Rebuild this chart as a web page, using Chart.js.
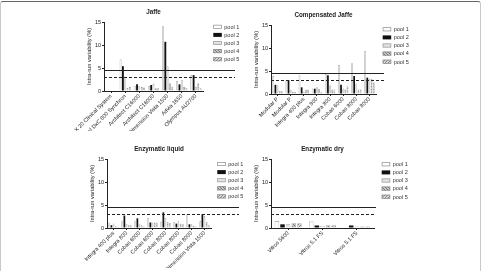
<!DOCTYPE html>
<html>
<head>
<meta charset="utf-8">
<script src="https://cdn.jsdelivr.net/npm/chart.js@4.4.1/dist/chart.umd.min.js"></script>
<style>
  html, body { margin: 0; padding: 0; background: #fff; }
  #wrap { position: relative; width: 482px; height: 271px; overflow: hidden; }
  #wrap canvas { position: absolute; left: 0; top: 0; }
  #frame { position: absolute; left: 0; top: 1px; width: 479px; height: 280px;
           border: 1px solid #c8c8c8; border-top: 1px solid #666; border-radius: 3px; }
</style>
</head>
<body>
<div id="wrap">
  <div id="frame"></div>
  <canvas id="jaffe" width="482" height="271"></canvas>
  <canvas id="compJaffe" width="482" height="271"></canvas>
  <canvas id="enzLiquid" width="482" height="271"></canvas>
  <canvas id="enzDry" width="482" height="271"></canvas>
</div>
<script>
    var poolNames = ['pool 1', 'pool 2', 'pool 3', 'pool 4', 'pool 5'];
    var yTicks = [0, 5, 10, 15];
    // solid and dashed limit lines (%)
    var limitValues = [4.5, 3.0];

    var jaffeLabels = ['LX 20 Clinical System', 'Unicel DxC 800 Synchron', 'Architect C16000',
        'Architect C16000', 'Dimension Vista 1500', 'Advia 1650', 'Olympus AU2700'];
    var jaffePool1 = [null, 6.9, 1.1, 1.1, 14.1, 2.2, 3.4];
    var jaffePool2 = [null, 5.4, 1.45, 1.3, 10.7, 1.45, 3.45];
    var jaffePool3 = [null, 3.1, 1.1, 1.5, 5.4, 2.4, 0.9];
    var jaffePool4 = [null, 0.7, 0.85, 0.6, 1.7, 0.9, 1.7];
    var jaffePool5 = [null, 0.85, 0.75, 0.6, 0.9, 0.7, 0.6];

    var compLabels = ['Modular P', 'Modular P', 'Integra 400 plus', 'Integra 800',
        'Integra 800', 'Cobas 6000', 'Cobas 8000', 'Cobas 8000'];
    var compPool1 = [3.9, 3.0, 4.1, 1.2, 4.35, 6.3, 6.7, 9.4];
    var compPool2 = [2.0, 3.0, 1.45, 1.15, 4.05, 2.0, 3.9, 3.55];
    var compPool3 = [1.9, 0.9, 0.5, 1.45, 1.9, 1.2, 2.3, 3.3];
    var compPool4 = [0.65, 0.5, 0.9, 1.15, 1.0, 1.0, 1.0, 3.3];
    var compPool5 = [0.6, 0.5, 1.0, 0.4, 1.0, 1.7, 1.0, 2.5];

    var liquidLabels = ['Integra 400 plus', 'Integra 800', 'Cobas 6000', 'Cobas 6000',
        'Cobas 8000', 'Cobas 8000', 'Cobas 8000', 'Dimension Vista 1500'];
    var liquidPool1 = [1.2, 1.6, 1.6, 2.2, 1.4, 1.3, 3.0, 1.45];
    var liquidPool2 = [0.6, 2.7, 2.1, 1.2, 3.4, 0.95, 0.8, 3.0];
    var liquidPool3 = [1.0, 0.9, 0.95, 1.2, 2.2, 1.45, 0.8, 2.6];
    var liquidPool4 = [0.4, 0.65, 0.6, 1.2, 1.3, 0.95, 0.5, 1.3];
    var liquidPool5 = [0.2, 0.6, 0.3, 1.2, 1.1, 0.95, 0.3, 0.6];

    var dryLabels = ['Vitros 5600', 'Vitros 5.1 FS', 'Vitros 5.1 FS'];
    var dryPool1 = [1.5, 1.4, null];
    var dryPool2 = [0.8, 0.55, 0.55];
    var dryPool3 = [0.8, 0.5, 0.35];
    var dryPool4 = [1.05, 0.6, 0.35];
    var dryPool5 = [1.05, 0.6, 0.35];

    Chart.defaults.font.family = "'Liberation Sans', Arial, sans-serif";
    Chart.defaults.color = '#222';

    function makePattern(bg, fg, type) {
        var c = document.createElement('canvas');
        c.width = 3;
        c.height = 3;
        var x = c.getContext('2d');
        x.fillStyle = bg;
        x.fillRect(0, 0, 3, 3);
        x.fillStyle = fg;
        if (type == 'hatch') {
            x.fillRect(0, 0, 1, 1);
            x.fillRect(1, 1, 1, 1);
            x.fillRect(2, 2, 1, 1);
        } else {
            x.fillRect(0, 0, 1, 1);
            x.fillRect(2, 1, 1, 1);
            x.fillRect(1, 2, 1, 1);
        }
        return x.createPattern(c, 'repeat');
    }

    var poolFill = ['#ffffff', '#111111', '#e2e2e2',
        makePattern('#c4c4c4', '#7a7a7a', 'hatch'), makePattern('#d6d6d6', '#8c8c8c', 'check')];
    var poolBorder = ['#8a8a8a', '#111111', '#9a9a9a', '#8a8a8a', '#8a8a8a'];

    // limit lines, drawn over the bars and a bit past the axis end
    var refLines = {
        id: 'refLines',
        afterDatasetsDraw: function (chart, args, opts) {
            var ctx = chart.ctx;
            var area = chart.chartArea;
            var y = chart.scales.y;
            ctx.save();
            ctx.strokeStyle = '#222';
            ctx.lineWidth = 1;
            limitValues.forEach(function (v, i) {
                var py = Math.round(y.getPixelForValue(v)) + 0.5;
                ctx.setLineDash(i == 0 ? [] : [3, 2]);
                ctx.beginPath();
                ctx.moveTo(area.left, py);
                ctx.lineTo(area.right + opts.extend, py);
                ctx.stroke();
            });
            ctx.restore();
        }
    };

    // small legend to the right of the plot, styled from the datasets
    var poolLegend = {
        id: 'poolLegend',
        afterDraw: function (chart, args, opts) {
            var ctx = chart.ctx;
            var area = chart.chartArea;
            var x0 = area.right + opts.dx;
            var y0 = area.top + opts.dy;
            ctx.save();
            ctx.font = '5.5px ' + Chart.defaults.font.family;
            ctx.textBaseline = 'middle';
            chart.data.datasets.forEach(function (ds, i) {
                var cy = y0 + i * 8.1;
                ctx.fillStyle = ds.backgroundColor;
                ctx.fillRect(x0, cy - 2, 8.5, 4);
                if (i != 1) {
                    ctx.strokeStyle = ds.borderColor;
                    ctx.lineWidth = 0.7;
                    ctx.strokeRect(x0 + 0.35, cy - 1.65, 7.8, 3.3);
                }
                ctx.fillStyle = '#333';
                ctx.fillText(ds.label, x0 + 11, cy + 0.3);
            });
            ctx.restore();
        }
    };

    function makeChart(id, title, labels, pools, place) {
        var datasets = [];
        pools.forEach(function (values, i) {
            datasets.push({
                label: poolNames[i],
                data: values,
                backgroundColor: poolFill[i],
                borderColor: poolBorder[i],
                borderWidth: i == 1 ? 0 : 0.6,
                categoryPercentage: 0.82,
                barPercentage: 0.8
            });
        });

        return new Chart(document.getElementById(id), {
            type: 'bar',
            data: { labels: labels, datasets: datasets },
            options: {
                responsive: false,
                animation: false,
                devicePixelRatio: 1,
                layout: { padding: { left: place.left - 18, right: 482 - place.right, top: place.top - 7.56 - 6, bottom: 271 - place.bottom - 40 } },
                plugins: {
                    legend: { display: false },
                    tooltip: { enabled: false },
                    title: {
                        display: true,
                        text: title,
                        fullSize: false,
                        color: '#222',
                        font: { size: 6.3, weight: 'bold', lineHeight: 1.2 },
                        padding: { top: 0, bottom: 6 }
                    },
                    refLines: { extend: place.extend },
                    poolLegend: { dx: place.legendDx, dy: place.legendDy }
                },
                scales: {
                    x: {
                        afterFit: function (scale) { scale.height = 40; },
                        grid: { display: true, drawOnChartArea: false, drawTicks: true, tickLength: 2, offset: false, color: '#222' },
                        border: { display: true, color: '#222', width: 1 },
                        ticks: { minRotation: 45, maxRotation: 45, autoSkip: false, padding: 0, font: { size: 5.5 }, color: '#222' }
                    },
                    y: {
                        min: 0,
                        max: 15,
                        afterFit: function (scale) { scale.width = 18; },
                        afterBuildTicks: function (scale) {
                            scale.ticks = yTicks.map(function (v) { return { value: v }; });
                        },
                        grid: { display: true, drawOnChartArea: false, drawTicks: true, tickLength: 2, color: '#222' },
                        border: { display: true, color: '#222', width: 1 },
                        ticks: { padding: 1, font: { size: 5.5 }, color: '#222' },
                        title: { display: true, text: 'Intra-run variability (%)', font: { size: 5.7 }, color: '#222', padding: { top: 0, bottom: 0 } }
                    }
                }
            },
            plugins: [refLines, poolLegend]
        });
    }

    makeChart('jaffe', 'Jaffe', jaffeLabels,
        [jaffePool1, jaffePool2, jaffePool3, jaffePool4, jaffePool5],
        { left: 104, right: 203, top: 22, bottom: 91, extend: 32, legendDx: 10.3, legendDy: 4.8 });

    makeChart('compJaffe', 'Compensated Jaffe', compLabels,
        [compPool1, compPool2, compPool3, compPool4, compPool5],
        { left: 271, right: 376, top: 25, bottom: 94, extend: 8, legendDx: 6.7, legendDy: 4.3 });

    makeChart('enzLiquid', 'Enzymatic liquid', liquidLabels,
        [liquidPool1, liquidPool2, liquidPool3, liquidPool4, liquidPool5],
        { left: 107, right: 211, top: 159, bottom: 228, extend: 28, legendDx: 6.3, legendDy: 5 });

    makeChart('enzDry', 'Enzymatic dry', dryLabels,
        [dryPool1, dryPool2, dryPool3, dryPool4, dryPool5],
        { left: 271, right: 374, top: 159, bottom: 228, extend: 2, legendDx: 7.7, legendDy: 5.3 });
</script>
</body>
</html>
